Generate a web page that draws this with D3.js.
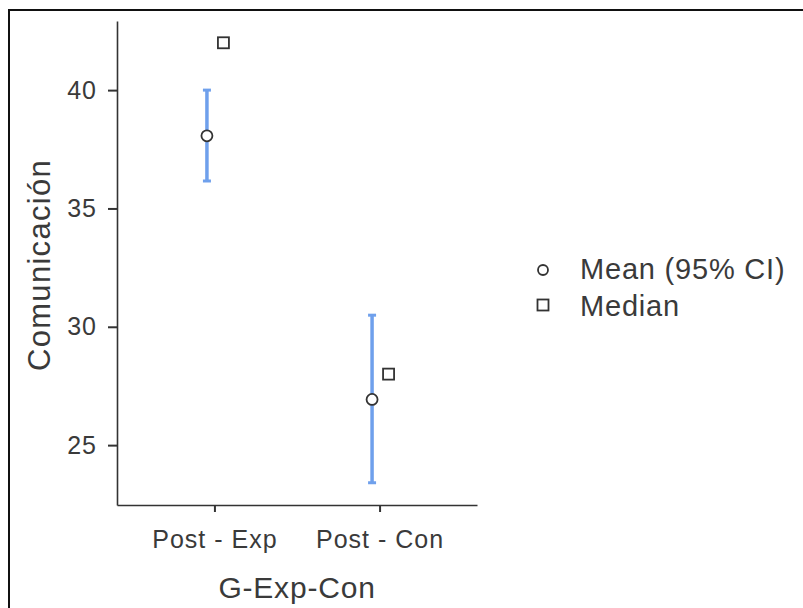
<!DOCTYPE html>
<html>
<head>
<meta charset="utf-8">
<script src="https://cdn.jsdelivr.net/npm/d3@7"></script>
<style>
  body { margin: 0; background: #fff; }
  text { font-family: "Liberation Sans", Arial, sans-serif; fill: #3a3a3a; }
</style>
</head>
<body>
<div class="chart"></div>
<script>
var w = 803;
var h = 608;

// values
var groups = ["Post - Exp", "Post - Con"];
var means = [38.07, 26.93];
var ciLow = [36.16, 23.41];
var ciHigh = [40.0, 30.49];
var medians = [42, 28];
var yTicks = [25, 30, 35, 40];
var legendLabels = ["Mean (95% CI)", "Median"];

var data = groups.map(function(g, i) {
    return {group: g, mean: means[i], lo: ciLow[i], hi: ciHigh[i], median: medians[i]};
});

var svg = d3.select('.chart')
            .append("svg")
            .attr("width", w)
            .attr("height", h);

// frame of the screenshot
svg.append("line").attr("x1", 8).attr("x2", w).attr("y1", 10).attr("y2", 10)
   .attr("stroke", "#111").attr("stroke-width", 2);
svg.append("line").attr("x1", 9).attr("x2", 9).attr("y1", 9).attr("y2", h)
   .attr("stroke", "#111").attr("stroke-width", 2);

var x = d3.scalePoint()
          .domain(groups)
          .range([117, 477])
          .padding(0.59);

var y = d3.scaleLinear()
          .domain([22.47, 42.92])
          .range([505, 21]);

var xAxis = svg.append("g")
    .attr("transform", "translate(0,505)")
    .call(d3.axisBottom(x).tickSize(7).tickSizeOuter(0).tickPadding(18));

var yAxis = svg.append("g")
    .attr("transform", "translate(117,0)")
    .call(d3.axisLeft(y).tickValues(yTicks).tickSize(9).tickSizeOuter(0).tickPadding(11));

[xAxis, yAxis].forEach(function(a) {
    a.select(".domain").attr("stroke", "#333").attr("stroke-width", 1.6);
    a.selectAll(".tick line").attr("stroke", "#333").attr("stroke-width", 2);
    a.selectAll(".tick text")
     .style("font-size", "25px")
     .style("letter-spacing", "1px")
     .attr("fill", "#3a3a3a");
});

// axis titles
svg.append("text")
   .attr("x", 297)
   .attr("y", 598)
   .attr("text-anchor", "middle")
   .style("font-size", "30px")
   .style("letter-spacing", "0.8px")
   .text("G-Exp-Con");

svg.append("text")
   .attr("transform", "translate(50,265) rotate(-90)")
   .attr("text-anchor", "middle")
   .style("font-size", "31px")
   .style("letter-spacing", "1.3px")
   .text("Comunicación");

var dMean = -7.5;
var dMed = 9;

// error bars
var bars = svg.selectAll(".ci")
    .data(data)
    .enter()
    .append("g")
    .attr("class", "ci");

bars.append("line")
    .attr("x1", function(d) { return x(d.group) + dMean; })
    .attr("x2", function(d) { return x(d.group) + dMean; })
    .attr("y1", function(d) { return y(d.lo); })
    .attr("y2", function(d) { return y(d.hi); })
    .attr("stroke", "#6fa0ec")
    .attr("stroke-width", 3.5);

bars.selectAll(".cap")
    .data(function(d) { return [d.lo, d.hi].map(function(v) { return {group: d.group, v: v}; }); })
    .enter()
    .append("line")
    .attr("x1", function(d) { return x(d.group) + dMean - 4; })
    .attr("x2", function(d) { return x(d.group) + dMean + 4; })
    .attr("y1", function(d) { return y(d.v); })
    .attr("y2", function(d) { return y(d.v); })
    .attr("stroke", "#6fa0ec")
    .attr("stroke-width", 3);

// medians
svg.selectAll(".med")
    .data(data)
    .enter()
    .append("rect")
    .attr("class", "med")
    .attr("x", function(d) { return x(d.group) + dMed - 5.5; })
    .attr("y", function(d) { return y(d.median) - 5.5; })
    .attr("width", 11)
    .attr("height", 11)
    .attr("fill", "#fff")
    .attr("stroke", "#333")
    .attr("stroke-width", 1.8);

// means
svg.selectAll(".mean")
    .data(data)
    .enter()
    .append("circle")
    .attr("class", "mean")
    .attr("cx", function(d) { return x(d.group) + dMean; })
    .attr("cy", function(d) { return y(d.mean); })
    .attr("r", 5.5)
    .attr("fill", "#fff")
    .attr("stroke", "#333")
    .attr("stroke-width", 1.8);

// legend
var legend = svg.append("g").attr("transform", "translate(543,270)");

legend.append("circle")
    .attr("cx", 0).attr("cy", 0).attr("r", 5)
    .attr("fill", "#fff").attr("stroke", "#333").attr("stroke-width", 1.8);

legend.append("rect")
    .attr("x", -5.5).attr("y", 35 - 5.5).attr("width", 11).attr("height", 11)
    .attr("fill", "#fff").attr("stroke", "#333").attr("stroke-width", 1.8);

legend.selectAll(".lab")
    .data(legendLabels)
    .enter()
    .append("text")
    .attr("class", "lab")
    .attr("x", 37)
    .attr("y", function(d, i) { return 9 + i * 37; })
    .style("font-size", "29px")
    .style("letter-spacing", "0.8px")
    .text(function(d) { return d; });
</script>
</body>
</html>
